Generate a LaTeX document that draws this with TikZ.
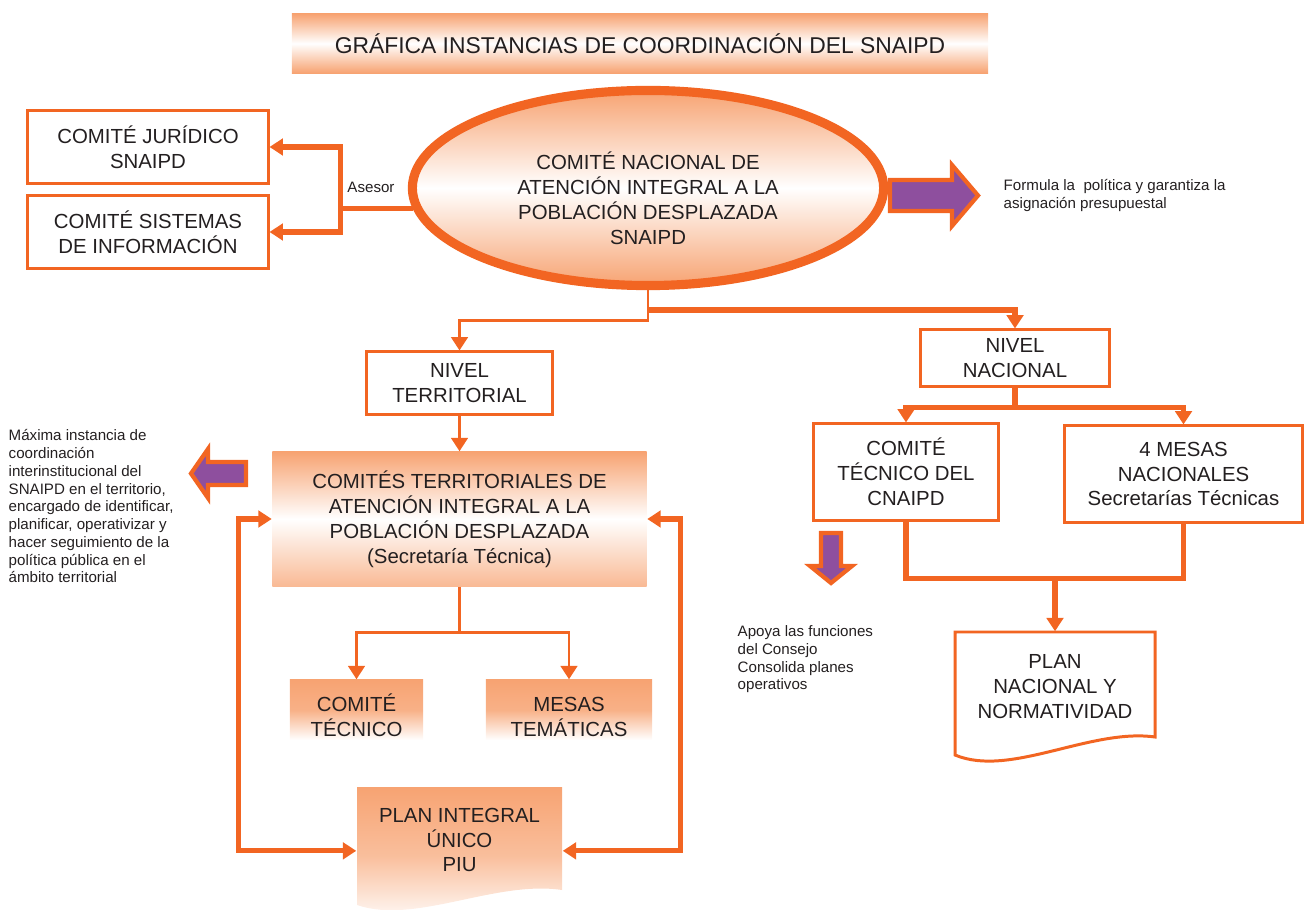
\documentclass[tikz,border=0pt]{standalone}
\usepackage{fontspec}
\setmainfont{Liberation Sans}
\usetikzlibrary{arrows.meta,shapes.geometric,calc}

\definecolor{naranja}{HTML}{F26522}
\definecolor{salmon}{HTML}{F7A372}
\definecolor{violeta}{HTML}{8E4F9E}
\definecolor{texto}{HTML}{231F20}

\begin{document}
\begin{tikzpicture}[x=0.01cm,y=-0.01cm,
  >={Triangle[width=4.7pt,length=3.8pt]},
  font=\fontsize{5.8}{7.1}\selectfont,text=texto,
  caja/.style={draw=naranja,line width=0.85pt,fill=white,align=center,inner sep=0pt},
  sombra/.style={top color=salmon,bottom color=salmon,middle color=white,align=center,inner sep=0pt},
  degr/.style={top color=salmon,bottom color=white,middle color=salmon!85,align=center,inner sep=0pt},
  nota/.style={font=\fontsize{4.3}{5.05}\selectfont,align=left,inner sep=0pt},
  grueso/.style={draw=naranja,line width=1.5pt},
  fino/.style={draw=naranja,line width=0.8pt},
  flecha/.style={fill=violeta,draw=naranja,line width=1.2pt}]
  \useasboundingbox (0,0) rectangle (1304,910);

  \node[sombra,minimum width=6.96cm,minimum height=0.59cm,font=\fontsize{6.5}{8}\selectfont] (titulo) at (640,43.5) {GRÁFICA INSTANCIAS DE COORDINACIÓN DEL SNAIPD};

  \node[caja,minimum width=2.40cm,minimum height=0.72cm] (juridico) at (148,147) {COMITÉ JURÍDICO\\SNAIPD};
  \node[caja,minimum width=2.40cm,minimum height=0.72cm] (sistemas) at (148,232) {COMITÉ SISTEMAS\\DE INFORMACIÓN};
  \node[ellipse,draw=naranja,line width=2.6pt,top color=salmon,bottom color=salmon,middle color=white,minimum width=4.71cm,minimum height=1.95cm,align=center,inner sep=0pt] (cnaipd) at (648,188) {\rule{0pt}{11pt}COMITÉ NACIONAL DE\\ATENCIÓN INTEGRAL A LA\\POBLACIÓN DESPLAZADA\\SNAIPD};
  \node[nota,anchor=south] (asesor) at (371,193) {Asesor};
  \node[nota,anchor=north west] (formula) at (1003,179) {Formula la~ política y garantiza la\\asignación presupuestal};

  \node[caja,minimum width=1.86cm,minimum height=0.62cm] (territorial) at (459.5,383) {NIVEL\\TERRITORIAL};
  \node[sombra,bottom color=salmon!75,middle color=white,minimum width=3.74cm,minimum height=1.34cm] (comites) at (459.5,519) {COMITÉS TERRITORIALES DE\\ATENCIÓN INTEGRAL A LA\\POBLACIÓN DESPLAZADA\\(Secretaría Técnica)};
  \node[nota,anchor=north west] (maxima) at (8,429) {Máxima instancia de\\coordinación\\interinstitucional del\\SNAIPD en el territorio,\\encargado de identificar,\\planificar, operativizar y\\hacer seguimiento de la\\política pública en el\\ámbito territorial};
  \node[degr,minimum width=1.33cm,minimum height=0.60cm] (ctecnico) at (356.5,710) {\rule{0pt}{8pt}COMITÉ\\TÉCNICO};
  \node[degr,minimum width=1.66cm,minimum height=0.60cm] (mesastem) at (569,710) {\rule{0pt}{8pt}MESAS\\TEMÁTICAS};
  \path[top color=salmon,bottom color=white,middle color=salmon!70] (357,787) -- (562,787) -- (562,890) .. controls (495,880) and (415,925) .. (357,905) -- cycle;
  \node[align=center,inner sep=0pt,minimum width=2.05cm,minimum height=1.18cm] (piu) at (459.5,840) {PLAN INTEGRAL\\ÚNICO\\PIU};

  \node[caja,minimum width=1.88cm,minimum height=0.56cm] (nacional) at (1015,358) {NIVEL\\NACIONAL};
  \node[caja,minimum width=1.84cm,minimum height=0.96cm] (ctcnaipd) at (906,472) {COMITÉ\\TÉCNICO DEL\\CNAIPD};
  \node[caja,minimum width=2.37cm,minimum height=0.96cm] (mesasnac) at (1183.5,474) {4 MESAS\\NACIONALES\\Secretarías Técnicas};
  \node[nota,anchor=north west] (apoya) at (737,625) {Apoya las funciones\\del Consejo\\Consolida planes\\operativos};
  \draw[line width=0.85pt,draw=naranja,fill=white] (955,632) -- (1155,632) -- (1155,737) .. controls (1090,728) and (1010,778) .. (955,755) -- cycle;
  \node[align=center,inner sep=0pt,minimum width=2.00cm,minimum height=1.10cm] (plannac) at (1055,687) {PLAN\\NACIONAL Y\\NORMATIVIDAD};

  \coordinate (asesorpunto) at ($(cnaipd.185)+(-72,0)$);
  \draw[grueso] (cnaipd.185) -- (asesorpunto);
  \draw[grueso,->] (asesorpunto) |- (juridico.east);
  \draw[grueso,->] (asesorpunto) |- (sistemas.east);

  \draw[fino,->] (cnaipd.south) -- ++(0,30) -| (territorial.north);
  \coordinate (nacpunto) at ($(cnaipd.south)+(0,20)$);
  \draw[grueso,->] (nacpunto) -| (nacional.north);

  \draw[fino,->] (territorial.south) -- (comites.north);
  \coordinate (terpunto) at ($(comites.south)+(0,46)$);
  \draw[fino] (comites.south) -- (terpunto);
  \draw[fino,->] (terpunto) -| (ctecnico.north);
  \draw[fino,->] (terpunto) -| (mesastem.north);
  \draw[grueso,<->] (comites.west) -- ++(-33,0) |- (piu.186);
  \draw[grueso,<->] (comites.east) -- ++(33,0) |- (piu.-6);

  \coordinate (nnpunto) at ($(nacional.south)+(0,20)$);
  \draw[grueso] (nacional.south) -- (nnpunto);
  \draw[grueso,->] (nnpunto) -| (ctcnaipd.north);
  \draw[grueso,->] (nnpunto) -| (mesasnac.north);
  \coordinate (planpunto) at ($(ctcnaipd.south)+(0,57)$);
  \draw[grueso] (ctcnaipd.south) -- (planpunto) -| (mesasnac.south);
  \draw[grueso,->] (planpunto -| plannac.north) -- (plannac.north);

  \draw[flecha] (890,180) -- (952,180) -- (952,165) -- (978,195.5) -- (952,226) -- (952,211) -- (890,211) -- cycle;
  \draw[flecha] (246,462) -- (208,462) -- (208,449) -- (191,473.5) -- (208,498) -- (208,485) -- (246,485) -- cycle;
  \draw[flecha] (821,533) -- (841,533) -- (841,566) -- (852,566) -- (831,583) -- (810,566) -- (821,566) -- cycle;
\end{tikzpicture}
\end{document}
